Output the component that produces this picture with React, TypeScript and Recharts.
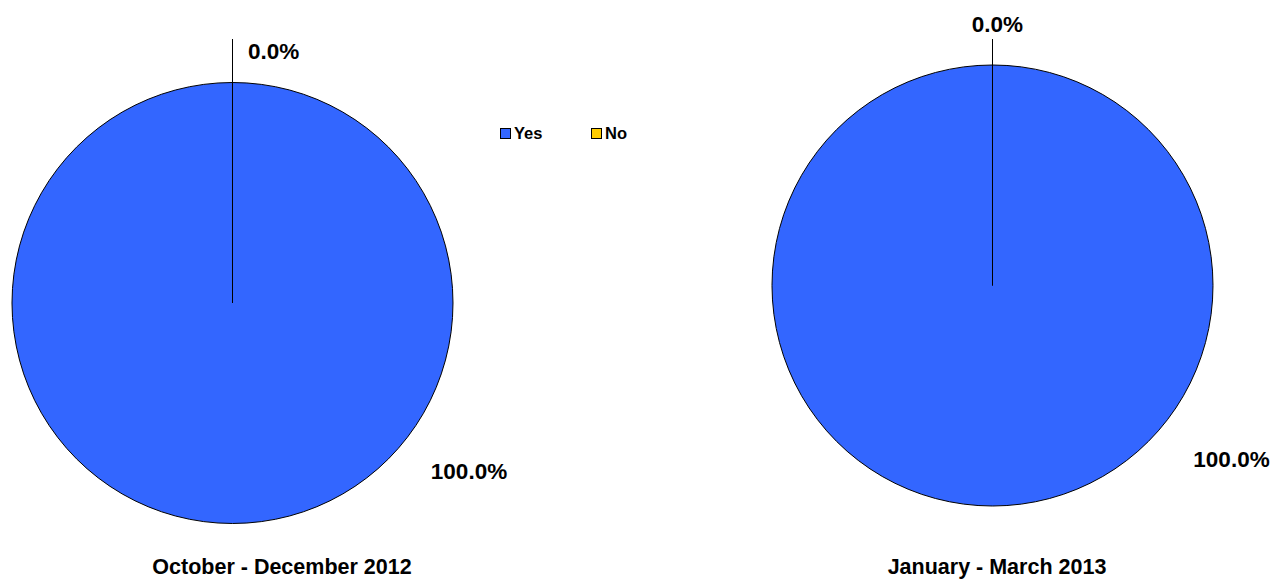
import React from 'react';
import { PieChart, Pie, Cell, Legend } from 'recharts';

// values (percent of respondents)
const periods = ['October - December 2012', 'January - March 2013'];
const answers = ['Yes', 'No'];
const octDec2012 = [100, 0];
const janMar2013 = [100, 0];
const colors = ['#3366FF', '#FFCC00'];

const FONT = '"Liberation Sans", Arial, sans-serif';

interface LabelLayout {
  lineTop: number; // y offset from centre where the 0% leader line ends
  noDx: number;
  noDy: number;
  noAnchor: 'start' | 'middle';
  yesDx: number;
  yesDy: number;
}

const charts = [
  {
    title: periods[0],
    values: octDec2012,
    cx: 232.5,
    cy: 303,
    layout: { lineTop: -264, noDx: 15.5, noDy: -244, noAnchor: 'start', yesDx: 236.5, yesDy: 176 } as LabelLayout,
    titleX: 282,
  },
  {
    title: periods[1],
    values: janMar2013,
    cx: 992.5,
    cy: 285.5,
    layout: { lineTop: -246.5, noDx: 5, noDy: -253.5, noAnchor: 'middle', yesDx: 239, yesDy: 181.5 } as LabelLayout,
    titleX: 997,
  },
];

const RADIUS = 220.5;

const makeLabel = (layout: LabelLayout) => (props: any) => {
  const { cx, cy, index, percent, outerRadius } = props;
  const text = `${(percent * 100).toFixed(1)}%`;
  if (index === 1) {
    return (
      <g key={`lbl-${index}`}>
        <line x1={cx} y1={cy - outerRadius} x2={cx} y2={cy + layout.lineTop} stroke="#000" strokeWidth={1} />
        <text x={cx + layout.noDx} y={cy + layout.noDy} textAnchor={layout.noAnchor} fontFamily={FONT} fontWeight="bold" fontSize={22.5} fill="#000">
          {text}
        </text>
      </g>
    );
  }
  return (
    <text key={`lbl-${index}`} x={cx + layout.yesDx} y={cy + layout.yesDy} textAnchor="middle" fontFamily={FONT} fontWeight="bold" fontSize={22.5} fill="#000">
      {text}
    </text>
  );
};

const LegendContent = () => (
  <div style={{ display: 'flex', fontFamily: FONT, fontWeight: 'bold', fontSize: 16.5, color: '#000' }}>
    {answers.map((a, i) => (
      <div key={a} style={{ display: 'flex', alignItems: 'center', width: 91 }}>
        <span style={{ display: 'inline-block', width: 9, height: 9, background: colors[i], border: '1px solid #000', marginRight: 3 }} />
        <span>{a}</span>
      </div>
    ))}
  </div>
);

export default function App() {
  return (
    <div style={{ position: 'absolute', left: 0, top: 0, width: 1285, height: 579, background: '#fff' }}>
      <PieChart width={1285} height={579} margin={{ top: 0, right: 0, bottom: 0, left: 0 }}>
        {charts.map((c, ci) => (
          <Pie
            key={ci}
            data={answers.map((name, i) => ({ name, value: c.values[i] }))}
            dataKey="value"
            nameKey="name"
            cx={c.cx}
            cy={c.cy}
            outerRadius={RADIUS}
            startAngle={90}
            endAngle={-270}
            stroke="#000"
            strokeWidth={1}
            label={makeLabel(c.layout)}
            labelLine={false}
            isAnimationActive={false}
          >
            {answers.map((a, i) => (
              <Cell key={a} fill={colors[i]} />
            ))}
          </Pie>
        ))}
        <Legend content={<LegendContent />} wrapperStyle={{ position: 'absolute', left: 500, top: 124, width: 200 }} />
      </PieChart>
      {charts.map((c) => (
        <div
          key={c.title}
          style={{
            position: 'absolute',
            left: c.titleX - 200,
            width: 400,
            top: 555,
            textAlign: 'center',
            fontFamily: FONT,
            fontWeight: 'bold',
            fontSize: 21.5,
            lineHeight: '24px',
          }}
        >
          {c.title}
        </div>
      ))}
    </div>
  );
}
